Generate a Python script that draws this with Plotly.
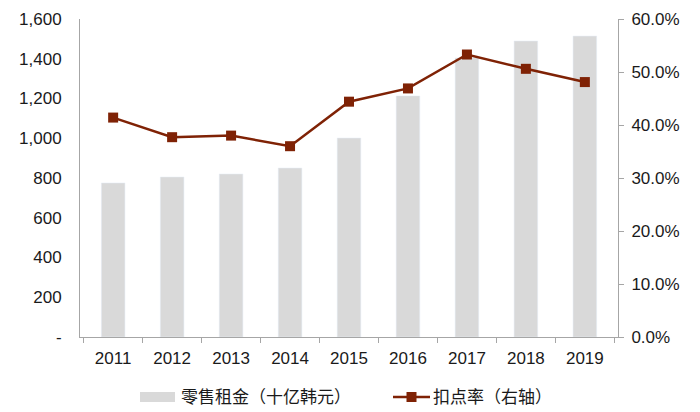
import plotly.graph_objects as go

years = ["2011", "2012", "2013", "2014", "2015", "2016", "2017", "2018", "2019"]
rent = [775, 805, 820, 850, 1001, 1213, 1404, 1489, 1514]
rate = [0.414, 0.377, 0.380, 0.360, 0.444, 0.469, 0.533, 0.506, 0.481]

left_vals = [0, 200, 400, 600, 800, 1000, 1200, 1400, 1600]
left_text = ["-", "200", "400", "600", "800", "1,000", "1,200", "1,400", "1,600"]
right_vals = [0, 0.1, 0.2, 0.3, 0.4, 0.5, 0.6]

bar_name = "零售租金（十亿韩元）"
line_name = "扣点率（右轴）"

font_family = "Liberation Sans, Arial, Noto Sans CJK SC, sans-serif"
axis_color = "#a6a6a6"
bar_color = "#d9d9d9"
line_color = "#7f2205"

# browser body margin offset (page pixels -> figure pixels)
O = 8
FW, FH = 700 - O, 412 - O
# plot area in page pixels
L, R, T, B = 80 - O, 618 - O, 19 - O, 337 - O
W, H = R - L, B - T


def px(x):
    return (x - O - L) / W


def py(y):
    return (B - (y - O)) / H


fig = go.Figure()
fig.add_trace(go.Bar(x=years, y=rent, name=bar_name, marker_color=bar_color,
                     width=0.4, yaxis="y"))
fig.add_trace(go.Scatter(x=years, y=rate, name=line_name, mode="lines+markers",
                         line=dict(color=line_color, width=2.5),
                         marker=dict(symbol="square", size=10, color=line_color),
                         yaxis="y2"))

# custom legend (page pixel positions)
leg_y = 397
fig.add_shape(type="rect", xref="paper", yref="paper",
              x0=px(140), x1=px(175), y0=py(402), y1=py(392),
              fillcolor=bar_color, line=dict(width=0))
fig.add_annotation(xref="paper", yref="paper", x=px(179), y=py(leg_y),
                   xanchor="left", yanchor="middle", showarrow=False,
                   text=bar_name, font=dict(size=17))
fig.add_shape(type="line", xref="paper", yref="paper",
              x0=px(393), x1=px(430), y0=py(leg_y), y1=py(leg_y),
              line=dict(color=line_color, width=2.5))
fig.add_shape(type="rect", xref="paper", yref="paper",
              x0=px(406.5), x1=px(416.5), y0=py(leg_y + 5), y1=py(leg_y - 5),
              fillcolor=line_color, line=dict(width=0))
fig.add_annotation(xref="paper", yref="paper", x=px(431), y=py(leg_y),
                   xanchor="left", yanchor="middle", showarrow=False,
                   text=line_name, font=dict(size=17))

fig.update_layout(
    width=FW, height=FH,
    margin=dict(l=L, r=FW - R, t=T, b=FH - B, autoexpand=False),
    plot_bgcolor="white", paper_bgcolor="white",
    font=dict(family=font_family, size=17, color="#1a1a1a"),
    showlegend=False,
    xaxis=dict(type="category", showline=True, linecolor=axis_color, linewidth=1,
               ticks="outside", tickson="boundaries", ticklen=5, tickcolor=axis_color,
               showgrid=False, tickfont=dict(size=17), automargin=False,
               ticklabelstandoff=6),
    yaxis=dict(range=[0, 1600], tickvals=left_vals, ticktext=left_text,
               showline=True, linecolor=axis_color, linewidth=1, ticks="",
               showgrid=False, zeroline=False, tickfont=dict(size=17),
               automargin=False, ticklabelstandoff=14),
    yaxis2=dict(range=[0, 0.6], tickvals=right_vals, tickformat=".1%",
                overlaying="y", side="right", showline=True, linecolor=axis_color,
                linewidth=1, ticks="outside", ticklen=5, tickcolor=axis_color,
                showgrid=False, zeroline=False, tickfont=dict(size=17),
                automargin=False, ticklabelstandoff=4),
)

fig.write_html("out.html")
